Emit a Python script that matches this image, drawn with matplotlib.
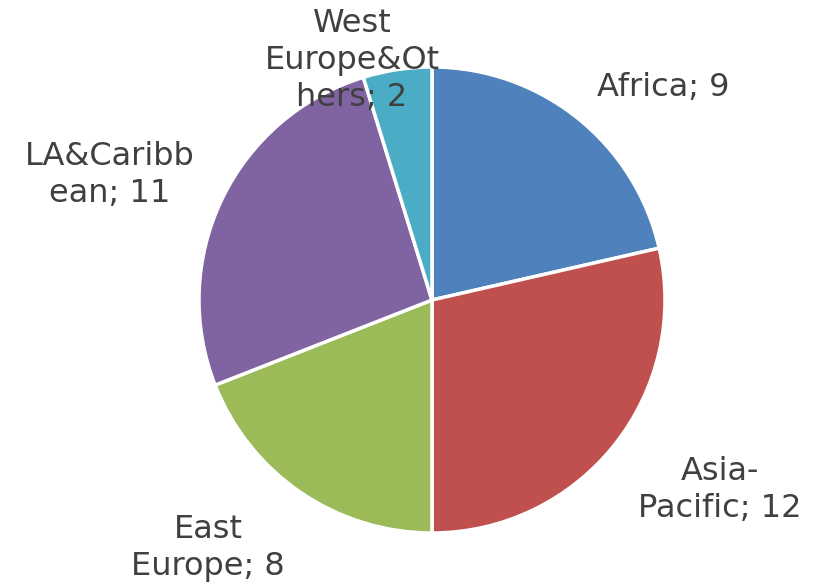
import matplotlib
matplotlib.use("Agg")
import matplotlib.pyplot as plt

categories = ["Africa", "Asia-Pacific", "East Europe", "LA&Caribbean", "West Europe&Others"]
values = [9, 12, 8, 11, 2]
label_texts = ["Africa; 9", "Asia-\nPacific; 12", "East\nEurope; 8", "LA&Caribb\nean; 11", "West\nEurope&Ot\nhers; 2"]
colors = ["#4F81BD", "#C0504D", "#9BBB59", "#8064A2", "#4BACC6"]

W, H = 814, 587
fig = plt.figure(figsize=(W / 100, H / 100), dpi=100)
ax = fig.add_axes([0, 0, 1, 1])

cx, cy, r = 432, H - 300, 233
ax.pie(values, colors=colors, startangle=90, counterclock=False,
       center=(cx, cy), radius=r,
       wedgeprops=dict(edgecolor="white", linewidth=2.5), frame=True)
ax.set_xlim(0, W)
ax.set_ylim(0, H)
ax.set_aspect("equal")
ax.axis("off")

label_pos = [(663, 88), (720, 490), (208, 548), (110, 175), (352, 60)]
for txt, (x, y) in zip(label_texts, label_pos):
    ax.text(x, H - y, txt, ha="center", va="center", fontsize=23,
            color="#404040", family="DejaVu Sans", linespacing=1.25)

fig.savefig("out.png", dpi=100)
